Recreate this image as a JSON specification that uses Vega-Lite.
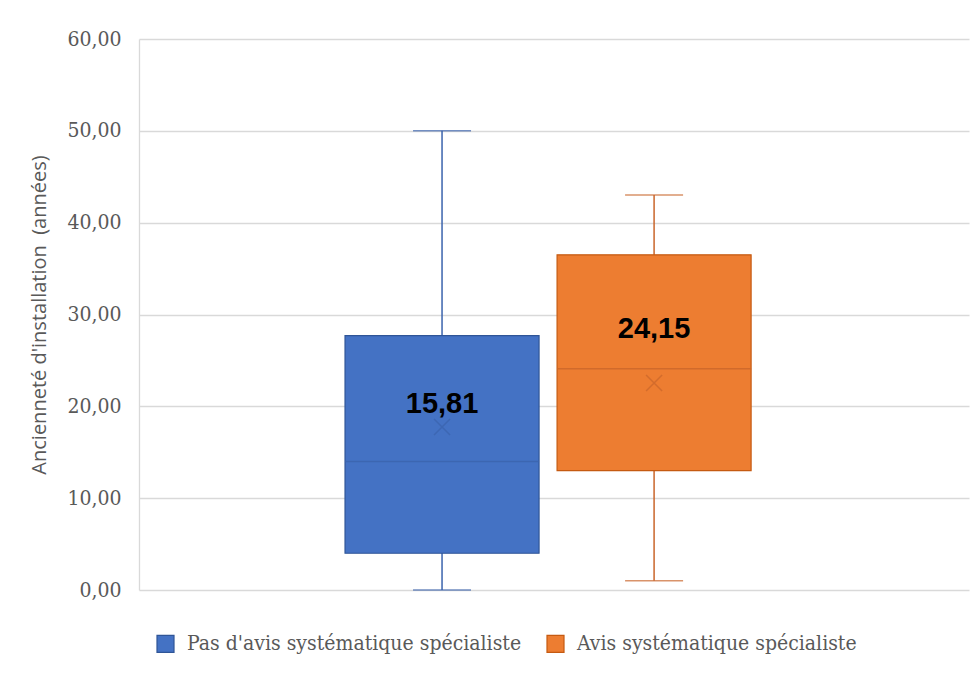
{
  "$schema": "https://vega.github.io/schema/vega-lite/v6.json",
  "width": 830,
  "height": 551,
  "autosize": {"type": "none"},
  "padding": {"left": 139, "top": 39, "right": 2, "bottom": 90},
  "background": "white",
  "config": {
    "locale": {"number": {"decimal": ",", "thousands": " ", "grouping": [3], "currency": ["", " €"]}},
    "view": {"stroke": null}
  },
  "data": {
    "values": [
      {"cat": "A", "group": "Pas d'avis systématique spécialiste", "min": 0, "q1": 4, "median": 14, "q3": 27.7, "max": 50, "mean": 17.75, "label": 15.81, "label_y": 20.2},
      {"cat": "A", "group": "Avis systématique spécialiste", "min": 1, "q1": 13, "median": 24.1, "q3": 36.5, "max": 43, "mean": 22.55, "label": 24.15, "label_y": 28.4}
    ]
  },
  "encoding": {
    "x": {"field": "cat", "type": "nominal", "scale": {"paddingInner": 0, "paddingOuter": 0.522, "align": 0.486},
      "axis": {"labels": false, "ticks": false, "domain": false, "title": null, "grid": false}},
    "xOffset": {"field": "group", "type": "nominal", "sort": ["Pas d'avis systématique spécialiste", "Avis systématique spécialiste"], "scale": {"paddingInner": 0.085, "paddingOuter": 0}}
  },
  "layer": [
    {
      "mark": {"type": "rule", "strokeWidth": 1.5},
      "encoding": {
        "y": {"field": "min", "type": "quantitative", "scale": {"domain": [0, 60], "nice": false},
          "axis": {"values": [0, 10, 20, 30, 40, 50, 60], "format": ".2f", "ticks": false, "domain": true, "domainColor": "#D9D9D9", "domainWidth": 1.3,
            "grid": true, "gridColor": "#D9D9D9", "gridWidth": 1.3,
            "labelFont": "DejaVu Serif Condensed", "labelFontSize": 21, "labelColor": "#595959", "labelPadding": 18,
            "title": "Ancienneté d'installation \u00a0(années)", "titleFont": "Open Sans", "titleFontSize": 20, "titleFontWeight": "normal", "titleColor": "#595959",
            "titleX": -100, "titleY": 275.5, "titleAngle": -90, "titleAlign": "center", "titleBaseline": "middle"}},
        "y2": {"field": "max"},
        "color": {"field": "group", "type": "nominal", "scale": {"domain": ["Pas d'avis systématique spécialiste", "Avis systématique spécialiste"], "range": ["#3B63AD", "#C9652B"]}, "legend": null}
      }
    },
    {
      "mark": {"type": "tick", "size": 58, "thickness": 1.5, "orient": "horizontal"},
      "encoding": {
        "y": {"field": "min", "type": "quantitative"},
        "color": {"field": "group", "type": "nominal", "legend": null}
      }
    },
    {
      "mark": {"type": "tick", "size": 58, "thickness": 1.5, "orient": "horizontal"},
      "encoding": {
        "y": {"field": "max", "type": "quantitative"},
        "color": {"field": "group", "type": "nominal", "legend": null}
      }
    },
    {
      "mark": {"type": "bar", "strokeWidth": 1.2},
      "encoding": {
        "y": {"field": "q1", "type": "quantitative"},
        "y2": {"field": "q3"},
        "fill": {"field": "group", "type": "nominal", "sort": ["Pas d'avis systématique spécialiste", "Avis systématique spécialiste"], "scale": {"range": ["#4472C4", "#ED7D31"]},
          "legend": {"title": null, "orient": "none", "legendX": 16, "legendY": 594, "direction": "horizontal", "symbolType": "square", "symbolSize": 289, "symbolStrokeWidth": 1.2,
            "labelFont": "DejaVu Serif Condensed", "labelFontSize": 21, "labelColor": "#595959", "labelOffset": 11, "columnPadding": 22, "labelLimit": 500,
            "encode": {"symbols": {"update": {"stroke": {"scale": "stroke", "field": "value"}}}}}},
        "stroke": {"field": "group", "type": "nominal", "scale": {"domain": ["Pas d'avis systématique spécialiste", "Avis systématique spécialiste"], "range": ["#2F5597", "#C55A11"]}, "legend": null}
      }
    },
    {
      "mark": {"type": "tick", "size": 194, "thickness": 1.5, "orient": "horizontal", "opacity": 0.8},
      "encoding": {
        "y": {"field": "median", "type": "quantitative"},
        "color": {"field": "group", "type": "nominal", "legend": null}
      }
    },
    {
      "mark": {"type": "point", "shape": "M-1,-1L1,1M1,-1L-1,1", "size": 256, "filled": false, "strokeWidth": 1.5, "opacity": 0.7},
      "encoding": {
        "y": {"field": "mean", "type": "quantitative"},
        "color": {"field": "group", "type": "nominal", "legend": null}
      }
    },
    {
      "mark": {"type": "text", "font": "Liberation Sans", "fontWeight": "bold", "fontSize": 29, "color": "#000000", "baseline": "middle", "align": "center"},
      "encoding": {
        "y": {"field": "label_y", "type": "quantitative"},
        "text": {"field": "label", "type": "quantitative", "format": ".2f"}
      }
    }
  ]
}
